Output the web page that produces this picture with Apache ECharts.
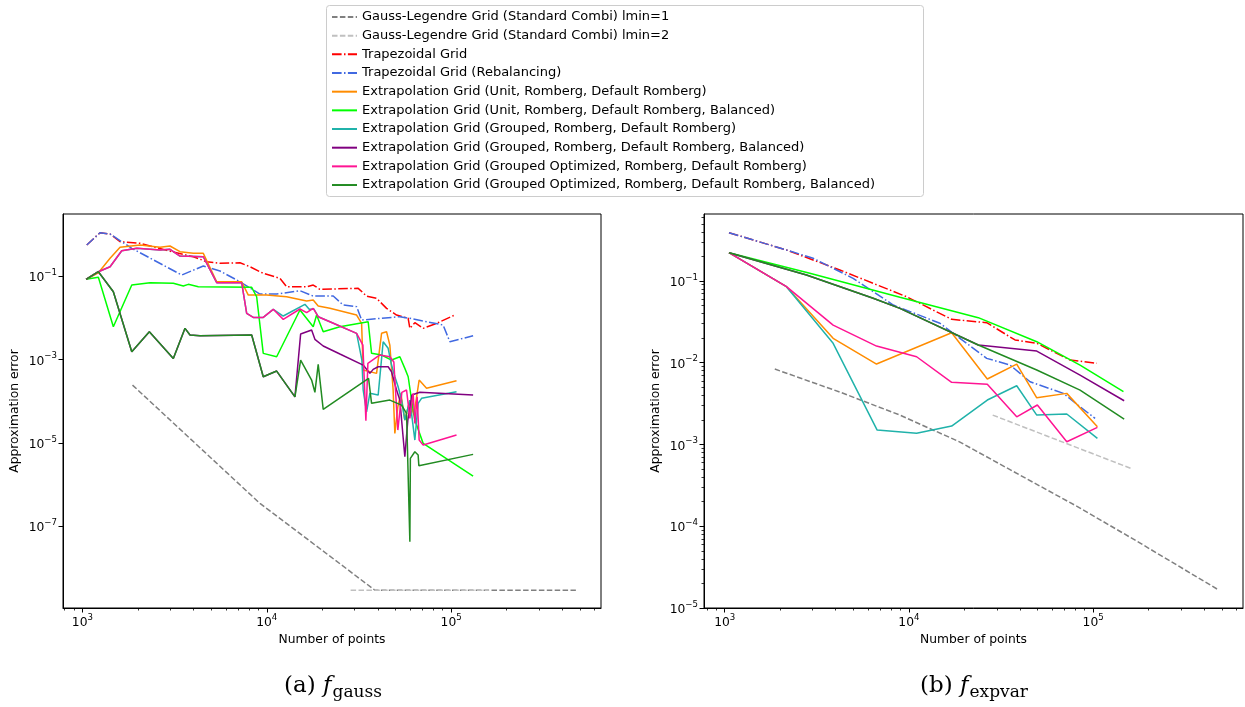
<!DOCTYPE html>
<html>
<head>
<meta charset="utf-8">
<script src="https://cdn.jsdelivr.net/npm/echarts@6/dist/echarts.min.js"></script>
<style>
html, body { margin: 0; padding: 0; background: #fff; }
#chart { width: 1245px; height: 707px; }
</style>
</head>
<body>
<div id="chart"></div>
<script>
// ---- series names ----
const NAMES = [
  'Gauss-Legendre Grid (Standard Combi) lmin=1',
  'Gauss-Legendre Grid (Standard Combi) lmin=2',
  'Trapezoidal Grid',
  'Trapezoidal Grid (Rebalancing)',
  'Extrapolation Grid (Unit, Romberg, Default Romberg)',
  'Extrapolation Grid (Unit, Romberg, Default Romberg, Balanced)',
  'Extrapolation Grid (Grouped, Romberg, Default Romberg)',
  'Extrapolation Grid (Grouped, Romberg, Default Romberg, Balanced)',
  'Extrapolation Grid (Grouped Optimized, Romberg, Default Romberg)',
  'Extrapolation Grid (Grouped Optimized, Romberg, Default Romberg, Balanced)'
];

// ---- tick values ----
const X_MAJOR = [1e3, 1e4, 1e5];
const X_MINOR = [800, 900, 2000, 3000, 4000, 5000, 6000, 7000, 8000, 9000,
  20000, 30000, 40000, 50000, 60000, 70000, 80000, 90000,
  200000, 300000, 400000, 500000, 600000];
const Y_MAJOR_GAUSS = [1e-1, 1e-3, 1e-5, 1e-7];
const Y_MAJOR_EXPVAR = [1e-1, 1e-2, 1e-3, 1e-4, 1e-5];
const Y_MINOR_EXPVAR = [
  2e-5, 3e-5, 4e-5, 5e-5, 6e-5, 7e-5, 8e-5, 9e-5,
  2e-4, 3e-4, 4e-4, 5e-4, 6e-4, 7e-4, 8e-4, 9e-4,
  2e-3, 3e-3, 4e-3, 5e-3, 6e-3, 7e-3, 8e-3, 9e-3,
  2e-2, 3e-2, 4e-2, 5e-2, 6e-2, 7e-2, 8e-2, 9e-2,
  0.2, 0.3, 0.4, 0.5, 0.6];

// ---- (a) f_gauss : [number of points, approximation error] ----
const gaussLmin1 = [[1870, 2.43e-4], [9186, 3.54e-7], [38580, 2.95e-9], [475000, 2.95e-9]];
const gaussLmin2 = [[28500, 2.95e-9], [160300, 2.95e-9]];
const gaussTrap = [[1056, 0.554], [1247, 1.093], [1413, 1.017], [1601, 0.664], [2055, 0.608],
  [3113, 0.376], [3997, 0.290], [4724, 0.220], [5576, 0.202], [7158, 0.208], [8110, 0.167],
  [9572, 0.116], [11792, 0.0881], [12820, 0.0554], [16455, 0.0554], [17865, 0.0608],
  [19420, 0.0480], [31330, 0.0507], [34790, 0.0331], [39410, 0.0292], [44650, 0.0168],
  [50580, 0.0116], [58480, 0.00968], [59730, 0.00557], [63580, 0.00759], [70510, 0.00557],
  [83350, 0.00734], [104700, 0.0116]];
const gaussTrapRebal = [[1056, 0.554], [1247, 1.093], [1413, 1.017], [1853, 0.462], [3457, 0.1057],
  [4527, 0.1737], [5576, 0.1318], [7158, 0.0730], [9186, 0.0370], [11317, 0.0370],
  [15136, 0.0444], [17865, 0.0331], [22940, 0.0331], [25980, 0.0202], [30720, 0.0184],
  [32690, 0.00881], [52720, 0.0106], [59730, 0.00968], [90500, 0.00668], [98400, 0.00266],
  [131600, 0.00370]];
const gaussUnit = [[1047, 0.0833], [1221, 0.1200], [1413, 0.2657], [1601, 0.488], [2055, 0.554],
  [2637, 0.488], [2987, 0.524], [3384, 0.383], [3997, 0.350], [4527, 0.350], [5353, 0.0730],
  [7311, 0.0730], [7940, 0.0350], [9989, 0.0350], [12820, 0.0319], [16455, 0.0252],
  [17865, 0.0266], [19013, 0.0191], [22000, 0.0168], [30720, 0.0116], [32690, 0.00734],
  [33340, 0.000557], [39410, 0.000464], [41950, 0.00423], [44650, 0.00462], [46520, 0.00221],
  [48470, 0.000185], [49520, 0.0000169], [51410, 0.0000734], [53380, 0.000154],
  [56100, 0.0000352], [59730, 0.000106], [62780, 0.0000464], [67080, 0.000321],
  [73580, 0.000203], [106970, 0.000308]];
const gaussUnitBal = [[1047, 0.0833], [1221, 0.0931], [1472, 0.00608], [1853, 0.0608], [2328, 0.0691],
  [3113, 0.0668], [3527, 0.0576], [3754, 0.0632], [4254, 0.0554], [8285, 0.0536],
  [8815, 0.0319], [9572, 0.00140], [11317, 0.00116], [15136, 0.0153], [17865, 0.00608],
  [18640, 0.0116], [20240, 0.00462], [24930, 0.00608], [35490, 0.00802], [37030, 0.00140],
  [41950, 0.00128], [47510, 0.000967], [52720, 0.00116], [56100, 0.000612], [58480, 0.000385],
  [61020, 0.000106], [63580, 0.0000352], [70510, 0.00000973], [131600, 0.0000016]];
const gaussGrouped = [[1047, 0.0833], [1221, 0.1268], [1413, 0.1671], [1635, 0.404], [1972, 0.462],
  [2637, 0.420], [2987, 0.437], [3384, 0.302], [4527, 0.290], [5353, 0.0691], [7311, 0.0691],
  [7783, 0.0127], [8451, 0.0102], [9572, 0.0102], [10845, 0.0159], [12290, 0.0110],
  [16107, 0.0210], [16997, 0.0159], [18020, 0.0162], [19013, 0.0106], [22000, 0.00802],
  [30720, 0.00423], [32810, 0.000967], [33340, 0.000185], [34790, 0.0000557], [36250, 0.000154],
  [40200, 0.000140], [42790, 0.00266], [45540, 0.00185], [47510, 0.000734], [49520, 0.000385],
  [51600, 0.000221], [53840, 0.000106], [56100, 0.0000352], [59730, 0.000106],
  [63580, 0.0000117], [66240, 0.0000886], [69120, 0.000117], [106970, 0.000168]];
const gaussGroupedBal = [[1047, 0.0833], [1221, 0.1268], [1472, 0.0420], [1853, 0.00153],
  [2308, 0.00462], [3113, 0.00106], [3603, 0.00557], [3835, 0.00385], [4345, 0.00370],
  [8285, 0.00385], [9572, 0.000385], [11317, 0.000527], [14220, 0.000127], [15265, 0.00406],
  [17514, 0.00507], [18246, 0.00303], [20240, 0.00210], [24930, 0.00135], [33340, 0.000734],
  [36250, 0.000464], [37770, 0.000579], [40200, 0.000668], [45540, 0.000668], [47510, 0.000507],
  [50580, 0.000185], [52720, 0.000106], [56100, 0.00000464], [58240, 0.0000352],
  [61240, 0.000140], [67660, 0.000163], [131600, 0.000140]];
const gaussGroupedOpt = [[1047, 0.0833], [1221, 0.1268], [1413, 0.1671], [1635, 0.404], [1972, 0.462],
  [2637, 0.420], [2987, 0.437], [3384, 0.302], [4527, 0.290], [5353, 0.0691], [7311, 0.0691],
  [7783, 0.0127], [8451, 0.0102], [9572, 0.0102], [10845, 0.0159], [12290, 0.00915],
  [15136, 0.0162], [16455, 0.0132], [17865, 0.0168], [19013, 0.0106], [22000, 0.00802],
  [30720, 0.00423], [33220, 0.00221], [34490, 0.0000339], [35360, 0.000806], [41070, 0.00128],
  [46520, 0.00116], [48900, 0.000866], [51410, 0.0000203], [54040, 0.000163], [57310, 0.000185],
  [59730, 0.0000387], [62230, 0.000154], [63580, 0.0000293], [65420, 0.000127],
  [67080, 0.0000117], [70510, 0.00000885], [106970, 0.0000154]];
const gaussGroupedOptBal = [[1047, 0.0833], [1221, 0.1268], [1472, 0.0420], [1853, 0.00153],
  [2308, 0.00462], [3113, 0.00106], [3603, 0.00557], [3835, 0.00385], [4345, 0.00370],
  [8285, 0.00385], [9572, 0.000385], [11317, 0.000527], [14220, 0.000127], [15265, 0.000967],
  [17514, 0.000321], [18246, 0.000163], [19013, 0.000763], [20240, 0.0000636], [35670, 0.000352],
  [37030, 0.0000886], [46520, 0.000106], [53840, 0.0000806], [57310, 0.0000510],
  [59730, 4.25e-8], [60110, 0.00000425], [63580, 0.00000612], [66240, 0.00000510],
  [66830, 0.00000282], [131600, 0.0000053]];

// ---- (b) f_expvar : [number of points, approximation error] ----
const expvarLmin1 = [[1870, 0.00837], [4217, 0.00438], [8936, 0.00229], [18920, 0.00107],
  [40090, 0.000422], [84920, 0.000167], [180100, 0.0000621], [472000, 0.0000170]];
const expvarLmin2 = [[28500, 0.00229], [160300, 0.000510]];
const expvarTrap = [[1055, 0.390], [2164, 0.2395], [4217, 0.1364], [9716, 0.0642], [17060, 0.0340],
  [26440, 0.0309], [37670, 0.0190], [49430, 0.0173], [74990, 0.01079], [104700, 0.00983]];
const expvarTrapRebal = [[1055, 0.390], [2164, 0.2395], [3020, 0.1896], [4977, 0.1079],
  [8225, 0.0508], [14740, 0.0304], [26440, 0.01132], [35400, 0.00937], [45470, 0.00585],
  [68940, 0.00422], [84920, 0.00289], [102500, 0.00209]];
const expvarUnit = [[1055, 0.222], [2164, 0.0852], [3878, 0.0199], [6670, 0.00964], [17060, 0.0233],
  [26640, 0.00632], [38480, 0.00964], [49430, 0.00373], [71940, 0.00422], [105500, 0.00165]];
const expvarUnitBal = [[1055, 0.222], [2897, 0.1243], [8936, 0.0632], [23800, 0.0356],
  [49430, 0.0181], [84920, 0.00937], [146100, 0.00442]];
const expvarGrouped = [[1055, 0.222], [2164, 0.0852], [3878, 0.0173], [6725, 0.00150],
  [11010, 0.00137], [17060, 0.00168], [26640, 0.00350], [38480, 0.00523], [49430, 0.00229],
  [71940, 0.00236], [105500, 0.00119]];
const expvarGroupedBal = [[1055, 0.222], [2780, 0.1184], [6397, 0.0614], [8936, 0.0463],
  [23800, 0.01647], [49430, 0.0139], [84920, 0.00707], [147400, 0.00343]];
const expvarGroupedOpt = [[1055, 0.222], [2164, 0.0852], [3878, 0.0289], [6670, 0.0160],
  [11010, 0.01184], [17060, 0.00576], [26640, 0.00544], [38480, 0.00218], [49810, 0.00304],
  [71940, 0.00108], [105500, 0.00162]];
const expvarGroupedOptBal = [[1055, 0.222], [2780, 0.1184], [6397, 0.0614], [8936, 0.0463],
  [23800, 0.01647], [49430, 0.00814], [84920, 0.00463], [147400, 0.00205]];

// ---- styling per series (legend order) ----
const COLORS = ['#808080', '#c0c0c0', '#ff0000', '#4169e1', '#ff8c00', '#00ff00',
  '#20b2aa', '#800080', '#ff1493', '#228b22'];
const DASHED = [5.5, 2.4];
const DASHDOT = [9.6, 2.4, 1.5, 2.4];
const LINE_TYPES = [DASHED, DASHED, DASHDOT, DASHDOT, 'solid', 'solid', 'solid', 'solid', 'solid', 'solid'];

const GAUSS = [gaussLmin1, gaussLmin2, gaussTrap, gaussTrapRebal, gaussUnit, gaussUnitBal,
  gaussGrouped, gaussGroupedBal, gaussGroupedOpt, gaussGroupedOptBal];
const EXPVAR = [expvarLmin1, expvarLmin2, expvarTrap, expvarTrapRebal, expvarUnit, expvarUnitBal,
  expvarGrouped, expvarGroupedBal, expvarGroupedOpt, expvarGroupedOptBal];

const FONT = 'DejaVu Sans';
const SERIF = 'DejaVu Serif';

function powLabel(v) {
  const e = Math.round(Math.log10(v));
  return '{b|10}{s|' + (e < 0 ? '\u2212' : '') + Math.abs(e) + '}';
}
const labelRich = {
  b: { fontFamily: FONT, fontSize: 12.3, color: '#000', lineHeight: 16, verticalAlign: 'bottom' },
  s: { fontFamily: FONT, fontSize: 8.6, color: '#000', lineHeight: 7, verticalAlign: 'top' }
};

function majorAxis(gridIndex, min, max, ticks, position) {
  return {
    type: 'log', logBase: 10, gridIndex, min, max, position,
    axisLine: { show: true, onZero: false, lineStyle: { color: '#000', width: 1 } },
    axisTick: { show: true, customValues: ticks, length: 4.5, lineStyle: { color: '#000', width: 1 } },
    axisLabel: { show: true, customValues: ticks, formatter: powLabel, rich: labelRich,
      margin: position === 'bottom' ? 5 : 6, color: '#000' },
    splitLine: { show: false },
    minorTick: { show: false }
  };
}
// tick-only overlay axis for the 2..9 subdivisions of each decade
function minorAxis(gridIndex, min, max, ticks, position) {
  return {
    type: 'log', logBase: 10, gridIndex, min, max, position, offset: 0,
    axisLine: { show: false, onZero: false },
    axisTick: { show: true, customValues: ticks, length: 2.5, lineStyle: { color: '#000', width: 0.8 } },
    axisLabel: { show: false },
    splitLine: { show: false }
  };
}

const X_RANGE = [[785, 650000], [772, 651000]];
const Y_RANGE = [[1.1e-9, 3.07], [1e-5, 0.66]];
const nameStyle = { fontFamily: FONT, fontSize: 12.3, color: '#000' };

const xAxes = [
  Object.assign(majorAxis(0, X_RANGE[0][0], X_RANGE[0][1], X_MAJOR, 'bottom'), {
    name: 'Number of points', nameLocation: 'middle', nameGap: 23, nameTextStyle: nameStyle }),
  Object.assign(majorAxis(1, X_RANGE[1][0], X_RANGE[1][1], X_MAJOR, 'bottom'), {
    name: 'Number of points', nameLocation: 'middle', nameGap: 23, nameTextStyle: nameStyle }),
  minorAxis(0, X_RANGE[0][0], X_RANGE[0][1], X_MINOR, 'bottom'),
  minorAxis(1, X_RANGE[1][0], X_RANGE[1][1], X_MINOR, 'bottom')
];
const yAxes = [
  Object.assign(majorAxis(0, Y_RANGE[0][0], Y_RANGE[0][1], Y_MAJOR_GAUSS, 'left'), {
    name: 'Approximation error', nameLocation: 'middle', nameGap: 42, nameRotate: 90, nameTextStyle: nameStyle }),
  Object.assign(majorAxis(1, Y_RANGE[1][0], Y_RANGE[1][1], Y_MAJOR_EXPVAR, 'left'), {
    name: 'Approximation error', nameLocation: 'middle', nameGap: 42, nameRotate: 90, nameTextStyle: nameStyle }),
  minorAxis(1, Y_RANGE[1][0], Y_RANGE[1][1], Y_MINOR_EXPVAR, 'left')
];

const series = [];
[GAUSS, EXPVAR].forEach(function (set, gi) {
  set.forEach(function (data, i) {
    series.push({
      type: 'line',
      name: NAMES[i],
      xAxisIndex: gi,
      yAxisIndex: gi,
      data: data,
      symbol: 'none',
      showSymbol: false,
      clip: true,
      color: COLORS[i],
      lineStyle: { color: COLORS[i], width: 1.5, type: LINE_TYPES[i] },
      emphasis: { disabled: true }
    });
  });
});

// sub-figure captions: "(a) f_gauss", "(b) f_expvar"
function caption(x, letter, sub) {
  return {
    type: 'text', x: x, y: 688, z: 10,
    style: {
      text: '{n|(' + letter + ') }{i|f}{u|' + sub + '}',
      align: 'center', verticalAlign: 'middle',
      rich: {
        n: { fontFamily: SERIF, fontSize: 23, fill: '#000', lineHeight: 27, verticalAlign: 'top' },
        i: { fontFamily: SERIF, fontStyle: 'italic', fontSize: 23, fill: '#000', lineHeight: 27, verticalAlign: 'top' },
        u: { fontFamily: SERIF, fontSize: 17, fill: '#000', lineHeight: 17, verticalAlign: 'bottom', padding: [0, 0, 0, 1] }
      }
    }
  };
}

const chart = echarts.init(document.getElementById('chart'), null, { renderer: 'canvas' });
chart.setOption({
  animation: false,
  backgroundColor: '#fff',
  grid: [
    { left: 63, top: 214, width: 538, height: 394, show: true, borderColor: '#000', borderWidth: 1, backgroundColor: 'transparent' },
    { left: 704, top: 214, width: 539, height: 394, show: true, borderColor: '#000', borderWidth: 1, backgroundColor: 'transparent' }
  ],
  xAxis: xAxes,
  yAxis: yAxes,
  legend: {
    data: NAMES,
    orient: 'vertical',
    left: 326, top: 5,
    padding: [5, 5, 5, 5],
    itemWidth: 25, itemHeight: 14, itemGap: 4.67,
    selectedMode: false,
    itemStyle: { opacity: 0 },
    textStyle: { fontFamily: FONT, fontSize: 13, color: '#000', lineHeight: 14 }
  },
  graphic: [
    { type: 'rect', z: -1, shape: { x: 326.5, y: 5.5, width: 597, height: 191, r: 3 },
      style: { fill: '#fff', stroke: '#cccccc', lineWidth: 1 } },
    caption(333, 'a', 'gauss'),
    caption(974, 'b', 'expvar')
  ],
  series: series
});
</script>
</body>
</html>
